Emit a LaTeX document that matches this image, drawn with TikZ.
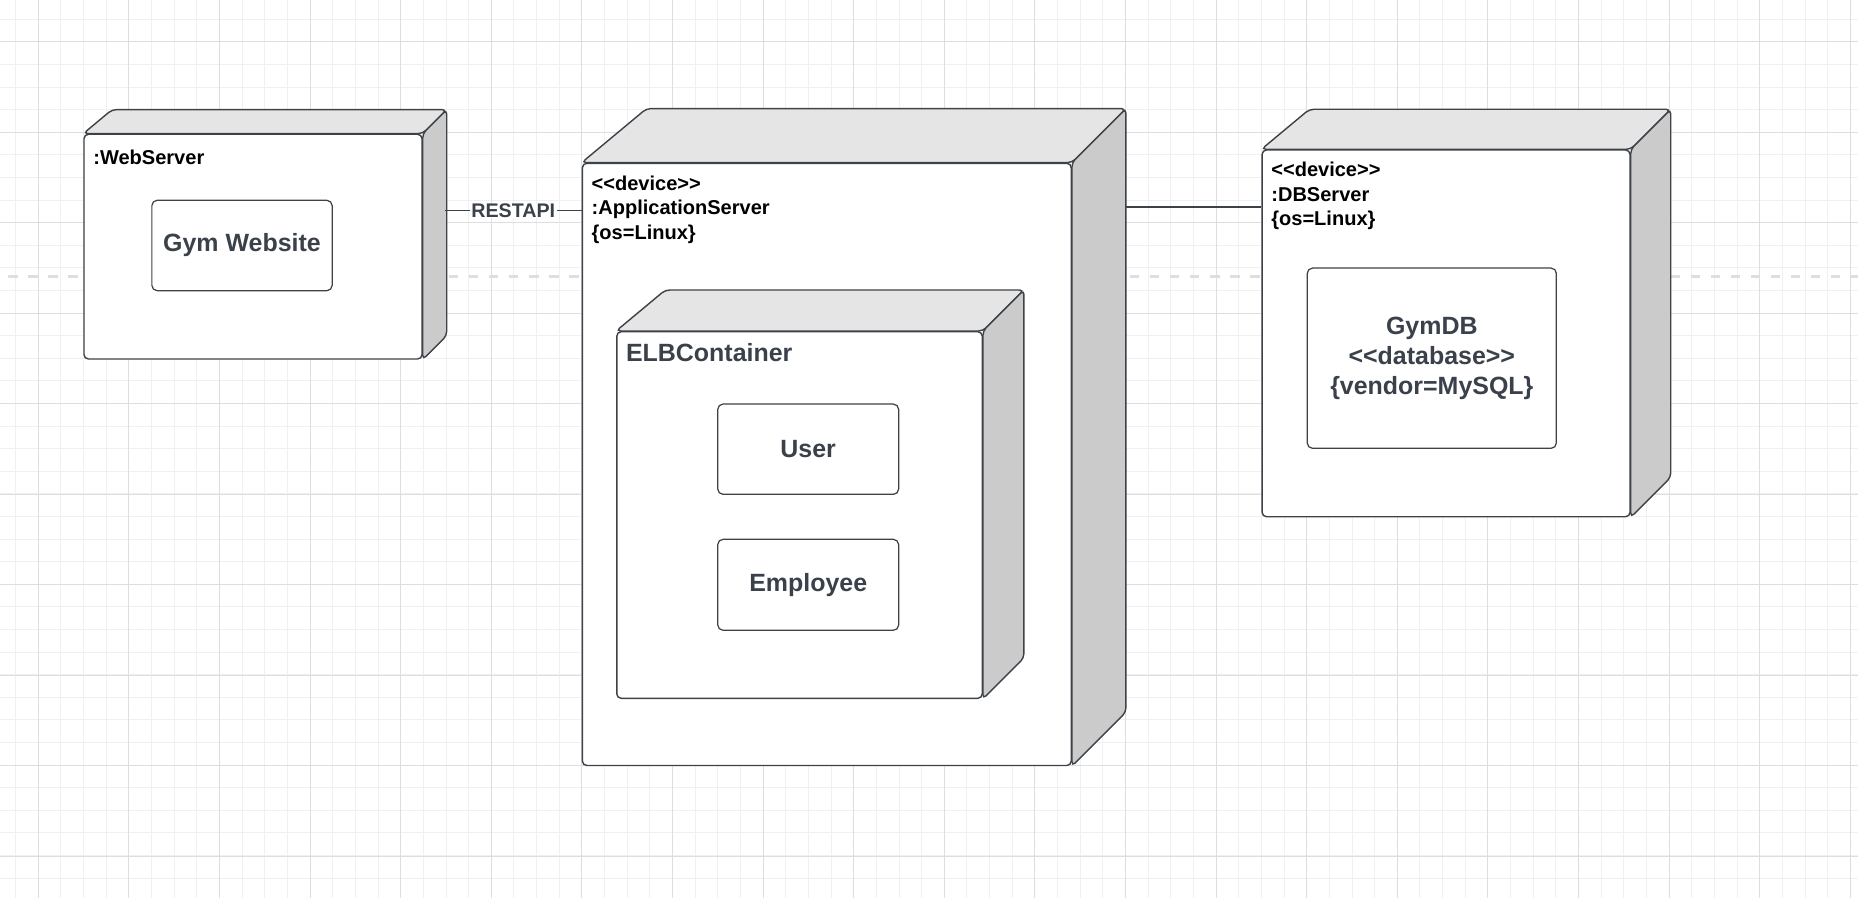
\documentclass[tikz,border=0pt]{standalone}
\usepackage{fontspec}
\setmainfont{Liberation Sans}
\usepackage{xcolor}
\usetikzlibrary{calc,fit}

\definecolor{edgegray}{HTML}{3D4249}
\definecolor{topgray}{HTML}{E5E5E5}
\definecolor{sidegray}{HTML}{CBCBCB}
\definecolor{labelgray}{HTML}{3A414A}
\definecolor{gridmajor}{HTML}{DEDEDE}
\definecolor{gridminor}{HTML}{F0F0F0}
\definecolor{guide}{HTML}{DEDEDE}

\newcommand{\lguil}{<\kern0pt<}
\newcommand{\rguil}{>\kern0pt>}

\tikzset{
    % Deployment node styles
    devbox/.style={draw=edgegray, line width=0.8pt, fill=white, rounded corners=2.5pt, inner sep=0pt},
    topface/.style={draw=edgegray, line width=0.8pt, fill=topgray, rounded corners=2.5pt},
    sideface/.style={draw=edgegray, line width=0.8pt, fill=sidegray, rounded corners=2.5pt},
    devlabel/.style={anchor=north west, inner sep=0pt, align=left, text=black, font=\fontsize{11.4}{13.9}\selectfont\bfseries},
    % Artifact styles
    artifact/.style={draw=edgegray, line width=0.7pt, fill=white, rounded corners=3pt, inner sep=0pt, align=center, text=labelgray, font=\fontsize{14.2}{17.1}\selectfont\bfseries},
    % Connector styles
    conn/.style={draw=edgegray, line width=0.8pt},
    connlabel/.style={fill=white, inner xsep=1pt, inner ysep=0pt, text=labelgray, font=\fontsize{11.2}{13}\selectfont\bfseries},
    % Grid styles
    gridminorline/.style={gridminor, line width=0.55pt},
    gridmajorline/.style={gridmajor, line width=0.6pt}
}

% top and side faces of a 3D node: name, depth
\newcommand{\nodefaces}[2]{
    \draw[topface] (#1.north west) -- ++({1.2*#2},-#2) -- ($(#1.north east)+(#2,-#2)$) -- (#1.north east) -- cycle;
    \draw[sideface] (#1.north east) -- ++(#2,-#2) -- ($(#1.south east)+(#2,-#2)$) -- (#1.south east) -- cycle;
}

\begin{document}
\begin{tikzpicture}[x=0.02cm, y=-0.02cm]
    \useasboundingbox (0,0) rectangle (1858,898);
    \fill[white] (0,0) rectangle (1858,898);

    % Background grid
    \foreach \i in {0,...,82} {\draw[gridminorline] ({15.65+22.65*\i},0) -- ++(0,898);}
    \foreach \i in {0,...,39} {\draw[gridminorline] (0,{19.2+22.6*\i}) -- ++(1858,0);}
    \foreach \i in {0,...,20} {\draw[gridmajorline] ({38.3+90.6*\i},0) -- ++(0,898);}
    \foreach \i in {0,...,9} {\draw[gridmajorline] (0,{41.8+90.5*\i}) -- ++(1858,0);}
    \draw[guide, line width=1.7pt, dash pattern=on 5.4pt off 6pt, dash phase=6.7pt] (0,276.7) -- (1858,276.7);

    % Web server
    \node[devbox, fit={(84,134.3) (422,359)}] (webserver) {};
    \nodefaces{webserver}{24}
    \node[devlabel] (weblabel) at (93,149.3) {:WebServer};
    \node[artifact, minimum width=3.606cm, minimum height=1.808cm] (gymsite) at (242,245.5) {Gym Website};

    % Application server
    \node[devbox, fit={(582.4,163.3) (1071.2,765.5)}] (appserver) {};
    \nodefaces{appserver}{54}
    \node[devlabel] (applabel) at (591.3,175.3) {\lguil device\rguil\\:ApplicationServer\\\{os=Linux\}};

    % ELB container
    \node[devbox, fit={(616.8,331.7) (982.2,698.3)}] (elb) {};
    \nodefaces{elb}{41}
    \node[devlabel, text=labelgray, font=\fontsize{14.2}{17.1}\selectfont\bfseries] (elblabel) at (625.7,343.4) {ELBContainer};
    \node[artifact, minimum width=3.618cm, minimum height=1.806cm] (user) at (808.2,449.2) {User};
    \node[artifact, minimum width=3.618cm, minimum height=1.82cm] (employee) at (808.2,584.8) {Employee};

    % Database server
    \node[devbox, fit={(1262.1,150) (1630,516.7)}] (dbserver) {};
    \nodefaces{dbserver}{40}
    \node[devlabel] (dblabel) at (1271,161.9) {\lguil device\rguil\\:DBServer\\\{os=Linux\}};
    \node[artifact, minimum width=4.982cm, minimum height=3.606cm] (gymdb) at (1431.8,358.2) {GymDB\\\lguil database\rguil\\\{vendor=MySQL\}};

    % Connections
    \coordinate (webport) at (444.8,210.7);
    \draw[conn] (webport) -- node[connlabel] (restlabel) {RESTAPI} (webport -| appserver.west);
    \coordinate (appport) at (1124.5,207);
    \draw[conn] (appport) -- (appport -| dbserver.west);
\end{tikzpicture}
\end{document}
